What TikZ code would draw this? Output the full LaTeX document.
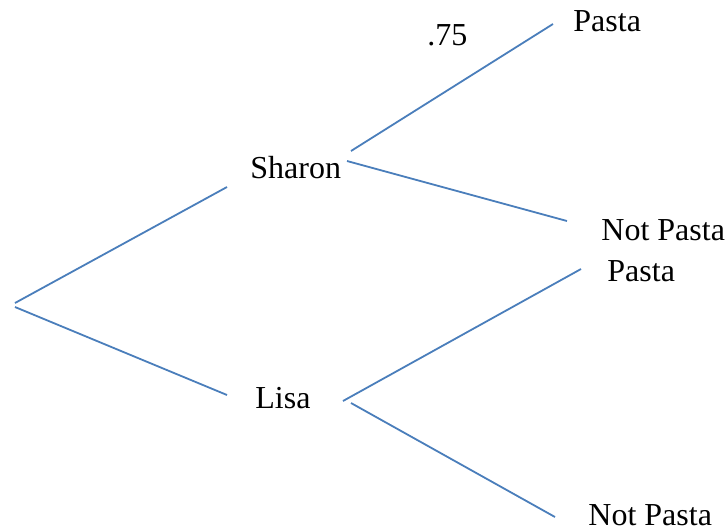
\documentclass[tikz,border=0pt]{standalone}
\usepackage{fontspec}
\setmainfont{Liberation Serif}
\usepackage{tikz}

\definecolor{branch}{RGB}{74,126,187}

\begin{document}
\begin{tikzpicture}[x=0.5pt,y=-0.5pt,
  lbl/.style={inner sep=0pt,anchor=base west,font=\fontsize{16}{19}\selectfont},
  edge/.style={branch,line width=0.9pt}]
\useasboundingbox (0,0) rectangle (727,531);

\node[lbl] (sharon) at (250,178) {Sharon};
\node[lbl] (lisa) at (255,408) {Lisa};
\node[lbl] (pastaA) at (573,31) {Pasta};
\node[lbl] (notA) at (601,240) {Not Pasta};
\node[lbl] (pastaB) at (607,281) {Pasta};
\node[lbl] (notB) at (588,525) {Not Pasta};
\node[lbl] (prob) at (427,45) {.75};

% branch ends
\coordinate (rootUp) at (15,303);
\coordinate (rootDn) at (15,307);
\coordinate (sharonIn) at (227,187);
\coordinate (lisaIn) at (227,395);
\coordinate (sharonUp) at (351,151);
\coordinate (sharonDn) at (347,161);
\coordinate (lisaUp) at (343,401);
\coordinate (lisaDn) at (351,403);
\coordinate (pastaAIn) at (553,24);
\coordinate (notAIn) at (567,221);
\coordinate (pastaBIn) at (581,269);
\coordinate (notBIn) at (555,517);

\draw[edge] (rootUp) -- (sharonIn);
\draw[edge] (rootDn) -- (lisaIn);
\draw[edge] (sharonUp) -- (pastaAIn);
\draw[edge] (sharonDn) -- (notAIn);
\draw[edge] (lisaUp) -- (pastaBIn);
\draw[edge] (lisaDn) -- (notBIn);
\end{tikzpicture}
\end{document}
